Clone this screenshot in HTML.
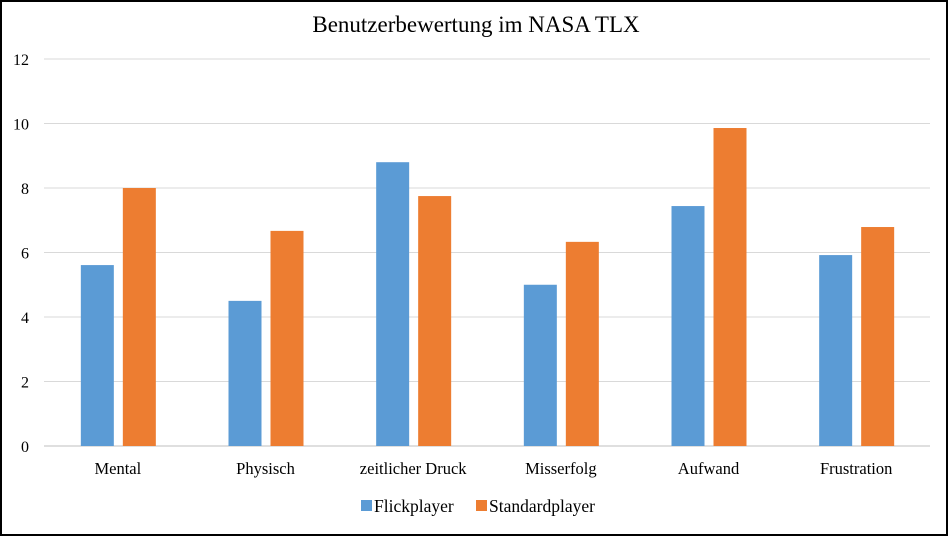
<!DOCTYPE html>
<html><head><meta charset="utf-8"><style>
body{margin:0;background:#fff}
svg{display:block;font-family:"Liberation Serif",serif}
</style></head><body>
<svg id="c" width="949" height="537">
<rect x="1" y="1" width="946" height="534" fill="#fff" stroke="#000" stroke-width="2"/>
<text x="476" y="32" font-size="23" text-anchor="middle" fill="#000">Benutzerbewertung im NASA TLX</text>
<g id="grid"></g><g id="bars"></g><g id="labels"></g>
<g>
<rect x="361" y="500" width="11" height="11" fill="#5b9bd5"/>
<text x="374" y="512" font-size="17.5">Flickplayer</text>
<rect x="476" y="500" width="11" height="11" fill="#ed7d31"/>
<text x="489" y="512" font-size="17.5">Standardplayer</text>
</g>
</svg>
<script>
const categories=["Mental","Physisch","zeitlicher Druck","Misserfolg","Aufwand","Frustration"];
const flickplayer=[5.61,4.5,8.8,5.0,7.44,5.92];
const standardplayer=[8.0,6.67,7.75,6.33,9.86,6.79];
const yTicks=[0,2,4,6,8,10,12];
const NS="http://www.w3.org/2000/svg";
const x0=44,x1=930,y0=446,yTop=59,yMax=12;
const y=v=>y0-(v/yMax)*(y0-yTop);
const band=(x1-x0)/categories.length;
function mk(t,a,p){const e=document.createElementNS(NS,t);for(const k in a)e.setAttribute(k,a[k]);p.appendChild(e);return e;}
const grid=document.getElementById('grid'),bars=document.getElementById('bars'),labels=document.getElementById('labels');
yTicks.forEach(t=>{
 const l=mk('line',{x1:x0,x2:x1,y1:y(t),y2:y(t),stroke:t===0?'#bfbfbf':'#d9d9d9','stroke-width':1},grid);
 
 
 const tx=mk('text',{x:29,y:y(t)+6,'font-size':16,'text-anchor':'end'},grid);
 tx.textContent=t;
 
 
});
categories.forEach((c,i)=>{
 const cx=x0+band*(i+0.5);
 const b1=mk('rect',{x:cx-37,y:y(flickplayer[i]),width:33,height:y0-y(flickplayer[i]),fill:'#5b9bd5'},bars);
 
 
 const b2=mk('rect',{x:cx+5,y:y(standardplayer[i]),width:33,height:y0-y(standardplayer[i]),fill:'#ed7d31'},bars);
 
 
 const t=mk('text',{x:cx,y:474,'font-size':16.5,'text-anchor':'middle'},labels);
 t.textContent=c;
 
 
});
</script>
</body></html>
